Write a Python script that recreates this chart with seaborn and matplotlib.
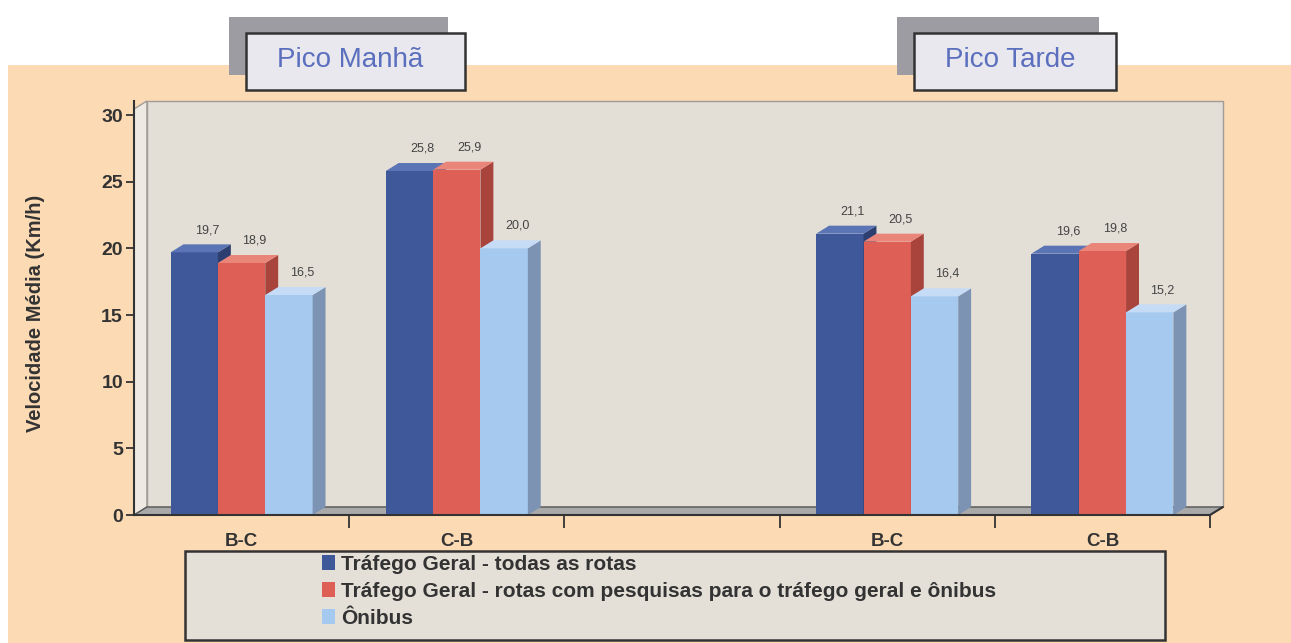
import numpy as np
import pandas as pd
import matplotlib.pyplot as plt
from matplotlib.colors import to_rgb
from matplotlib.patches import Rectangle, Polygon, Patch
import seaborn as sns

# dados (velocidade média em km/h)
slots = ["manha_BC", "manha_CB", "vazio", "tarde_BC", "tarde_CB"]
slot_labels = ["B-C", "C-B", "", "B-C", "C-B"]
series = ["Tráfego Geral - todas as rotas",
          "Tráfego Geral - rotas com pesquisas para o tráfego geral e ônibus",
          "Ônibus"]
todas_rotas = [19.7, 25.8, 21.1, 19.6]
rotas_pesquisa = [18.9, 25.9, 20.5, 19.8]
onibus = [16.5, 20.0, 16.4, 15.2]
data_slots = ["manha_BC", "manha_CB", "tarde_BC", "tarde_CB"]

df = pd.DataFrame({
    "slot": data_slots * 3,
    "serie": [series[0]] * 4 + [series[1]] * 4 + [series[2]] * 4,
    "vel": todas_rotas + rotas_pesquisa + onibus,
})

front = ["#3F5899", "#DE5F55", "#A6C9F0"]
side = ["#2D3E70", "#A8443C", "#7D93B3"]
top = ["#5A74B5", "#EA857A", "#C6DCF6"]

sns.set_theme(style="white")
plt.rcParams['font.family'] = ['Liberation Sans', 'DejaVu Sans']

fig = plt.figure(figsize=(12.91, 6.43), dpi=100)
fig.patch.set_facecolor("white")
W, H = 1291, 643
# painel pêssego
fig.add_artist(Rectangle((8 / W, 0), 1 - 8 / W, 1 - 65 / H, transform=fig.transFigure,
                         facecolor="#FCDAB4", edgecolor="none", zorder=0))

ax = fig.add_axes([134 / W, 1 - 515 / H, (1210 - 134) / W, (515 - 101) / H])
ax.set_facecolor("none")

sns.barplot(data=df, x="slot", y="vel", hue="serie", order=slots, hue_order=series,
            palette=front, width=0.66, gap=0, saturation=1, errorbar=None,
            legend=False, ax=ax, linewidth=0)

ymax = 31.05
ax.set_xlim(-0.5, 4.5)
ax.set_ylim(0, ymax)
dx, dy = 0.06, 0.6

# paredes e piso (efeito 3D)
ax.add_patch(Rectangle((-0.5 + dx, dy), 5, ymax - dy, facecolor="#E3DFD7",
                       edgecolor="#A09C96", lw=1, zorder=0.5, clip_on=False))
ax.add_patch(Polygon([(-0.5, 0), (-0.5 + dx, dy), (-0.5 + dx, ymax), (-0.5, ymax - dy)],
                     closed=True, facecolor="#EEEAE3", edgecolor="#A09C96", lw=1,
                     zorder=0.6, clip_on=False))
ax.add_patch(Polygon([(-0.5, 0), (4.5, 0), (4.5 + dx, dy), (-0.5 + dx, dy)], closed=True,
                     facecolor="#A9A9A9", edgecolor="#555555", lw=1, zorder=0.7,
                     clip_on=False))

# faces laterais e superiores das barras
bars = sorted([p for p in ax.patches if isinstance(p, Rectangle) and p.get_height() > 0
               and p.get_width() < 0.5], key=lambda p: p.get_x())
for i, p in enumerate(bars):
    x, w, h = p.get_x(), p.get_width(), p.get_height()
    k = int(np.argmin([np.abs(np.array(p.get_facecolor()[:3]) - to_rgb(c)).sum()
                       for c in front]))
    p.set_zorder(10 + i)
    ax.add_patch(Polygon([(x + w, 0), (x + w + dx, dy), (x + w + dx, h + dy), (x + w, h)],
                         closed=True, facecolor=side[k], edgecolor="none",
                         zorder=10.2 + i, clip_on=False))
    ax.add_patch(Polygon([(x, h), (x + dx, h + dy), (x + w + dx, h + dy), (x + w, h)],
                         closed=True, facecolor=top[k], edgecolor="none",
                         zorder=10.2 + i, clip_on=False))
    ax.annotate(f"{h:.1f}".replace(".", ","), (x + w / 2 + dx, h + dy),
                xytext=(0, 6), textcoords="offset points", ha="center", va="bottom",
                fontsize=9, color="#444444", zorder=30)

# eixos
for s in ["top", "right"]:
    ax.spines[s].set_visible(False)
for s in ["left", "bottom"]:
    ax.spines[s].set_color("#333333")
    ax.spines[s].set_linewidth(1.5)
    ax.spines[s].set_zorder(40)
ax.plot([4.5, 4.5 + dx], [0, dy], color="#333333", lw=1.5, clip_on=False, zorder=40)

ax.set_yticks(range(0, 31, 5))
ax.tick_params(axis="y", direction="out", length=6, width=1.3, color="#333333",
               labelsize=14, labelcolor="#333333", pad=2, left=True)
for t in ax.get_yticklabels():
    t.set_fontweight("bold")

ax.set_xticks([0, 1, 3, 4])
ax.set_xticklabels([slot_labels[i] for i in [0, 1, 3, 4]], fontsize=13.5,
                   fontweight="bold", color="#333333")
ax.set_xticks([0.5, 1.5, 2.5, 3.5, 4.5], minor=True)
ax.tick_params(axis="x", which="major", length=0, pad=13)
ax.tick_params(axis="x", which="minor", direction="out", length=9, width=1.3,
               color="#333333", bottom=True)
ax.set_xlabel("")
ax.set_ylabel("Velocidade Média (Km/h)", fontsize=14.5, fontweight="bold",
              color="#333333")
ax.yaxis.set_label_coords(-(134 - 45) / (1210 - 134), (515 - 313) / (515 - 101))

# caixa da legenda
fig.add_artist(Rectangle((185 / W, 1 - 640 / H), (1165 - 185) / W, (640 - 551) / H,
                         transform=fig.transFigure, facecolor="#E4E0D8",
                         edgecolor="#333333", lw=1.8, zorder=1))
handles = [Patch(facecolor=c, edgecolor="none") for c in front]
leg = fig.legend(handles, series, loc="upper left", bbox_to_anchor=(322 / W, 1 - 555 / H),
                 frameon=False, fontsize=15, handlelength=0.6, handleheight=0.7,
                 handletextpad=0.3, labelspacing=0.38, borderpad=0, borderaxespad=0)
for t in leg.get_texts():
    t.set_fontweight("bold")
    t.set_color("#333333")

# caixas de título
for x0, x1, txt in [(246, 465, "Pico Manhã"), (914, 1116, "Pico Tarde")]:
    fig.add_artist(Rectangle(((x0 - 17) / W, 1 - 75 / H), (x1 - x0) / W, 58 / H,
                             transform=fig.transFigure, facecolor="#9C9CA2",
                             edgecolor="none", zorder=2))
    fig.add_artist(Rectangle((x0 / W, 1 - 90 / H), (x1 - x0) / W, 57 / H,
                             transform=fig.transFigure, facecolor="#E8E8EE",
                             edgecolor="#333333", lw=1.8, zorder=3))
    fig.text((x0 + x1) / 2 / W - 5 / W, 1 - 60 / H, txt, ha="center", va="center",
             fontsize=20, color="#5B6FBE", zorder=4)

fig.savefig("out.png", dpi=100)
